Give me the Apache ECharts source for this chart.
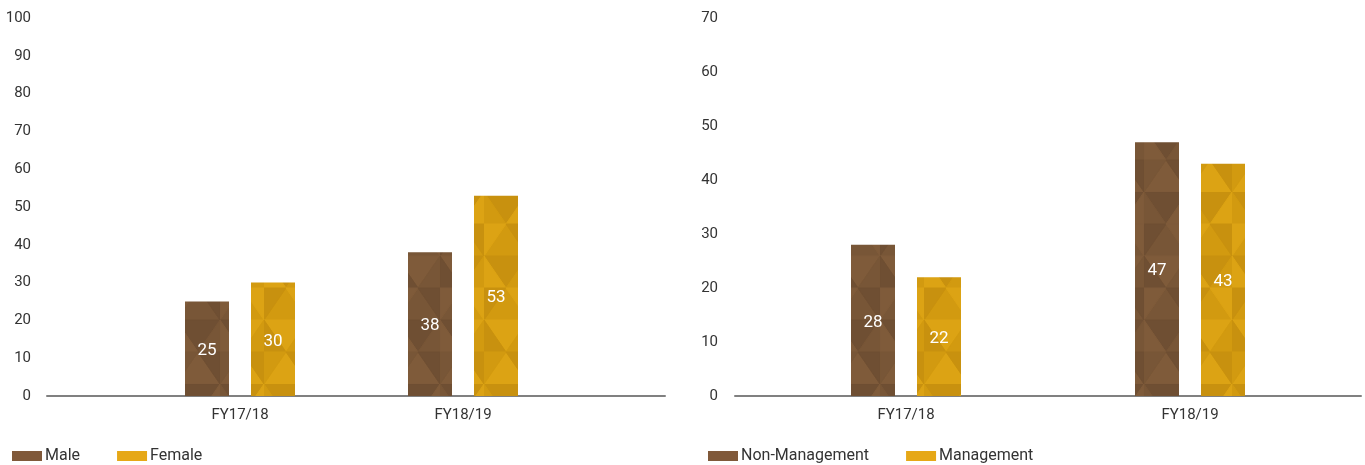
<!DOCTYPE html>
<html>
<head>
<meta charset="utf-8">
<script src="https://cdn.jsdelivr.net/npm/echarts@6/dist/echarts.min.js"></script>
<style>
  html, body { margin: 0; padding: 0; background: #fff; }
  #chart { width: 1365px; height: 465px; }
</style>
</head>
<body>
<div id="chart"></div>
<script>
// data
const years = ['FY17/18', 'FY18/19']
const male = [25, 38]
const female = [30, 53]
const nonManagement = [28, 47]
const management = [22, 43]
const genderTicks = { min: 0, max: 100, interval: 10 }
const levelTicks = { min: 0, max: 70, interval: 10 }

const BROWN = '#80593a'
const GOLD = '#e6a817'
const FONT = 'Roboto'

// 三角形纹理
const makePattern = (base, shades, order) => {
  const w = 44, h = 32, rows = 6
  const cv = document.createElement('canvas')
  cv.width = w
  cv.height = h * rows
  const ctx = cv.getContext('2d')
  ctx.fillStyle = base
  ctx.fillRect(0, 0, w, h * rows)
  let k = 0
  const tri = (pts) => {
    const c = shades[order[k++ % order.length]]
    ctx.fillStyle = c
    ctx.strokeStyle = c
    ctx.lineWidth = 1
    ctx.beginPath()
    ctx.moveTo(pts[0][0], pts[0][1])
    ctx.lineTo(pts[1][0], pts[1][1])
    ctx.lineTo(pts[2][0], pts[2][1])
    ctx.closePath()
    ctx.fill()
    ctx.stroke()
  }
  for (let r = 0; r < rows; r++) {
    const y0 = r * h, y1 = y0 + h
    if (r % 2 === 0) {
      tri([[0, y0], [w, y0], [w / 2, y1]])
      tri([[0, y0], [w / 2, y1], [0, y1]])
      tri([[w, y0], [w, y1], [w / 2, y1]])
    } else {
      tri([[0, y1], [w, y1], [w / 2, y0]])
      tri([[0, y0], [w / 2, y0], [0, y1]])
      tri([[w / 2, y0], [w, y0], [w, y1]])
    }
  }
  return { image: cv, repeat: 'repeat' }
}

const order = [0, 1, 2, 1, 0, 2, 2, 0, 1, 1, 2, 0, 0, 2, 1, 2, 1, 0]
const brownPattern = makePattern('#775536', ['#6f4f33', '#785637', '#7f5b3a'], order)
const goldPattern = makePattern('#d29a10', ['#c8910f', '#d29a10', '#dca314'], order.slice().reverse())

const labelStyle = { color: '#333', fontSize: 15, fontFamily: FONT }

const axisGrid = (left, width) => ({ left, width, top: 18, bottom: 69 })

const barSeries = (name, data, color, xi) => ({
  name,
  type: 'bar',
  xAxisIndex: xi,
  yAxisIndex: xi,
  data,
  barWidth: 44,
  barGap: '50%',
  itemStyle: { color },
  label: {
    show: true,
    position: 'inside',
    offset: [0, 2],
    color: '#fff',
    fontSize: 17,
    fontFamily: FONT
  },
  silent: true,
  animation: false
})

const axisLineOnly = (gi) => ({
  gridIndex: gi, type: 'value', min: 0, max: 1,
  axisLabel: { show: false }, splitLine: { show: false }, axisTick: { show: false },
  axisLine: { lineStyle: { color: '#808080', width: 2 } }
})

const legendBox = (left, items) => ({
  left, top: 443, itemWidth: 30, itemHeight: 10, itemGap: 37, icon: 'rect',
  textStyle: { ...labelStyle, fontSize: 16, padding: [0, 0, 0, -2] },
  data: items
})

const chart = echarts.init(document.getElementById('chart'))
chart.setOption({
  backgroundColor: '#fff',
  animation: false,
  grid: [
    axisGrid(47, 618),    // 左图轴线
    axisGrid(128.5, 446), // 左图柱
    axisGrid(735, 626),   // 右图轴线
    axisGrid(764, 568)    // 右图柱
  ],
  xAxis: [
    axisLineOnly(0),
    { gridIndex: 1, type: 'category', data: years, axisLine: { show: false }, axisTick: { show: false }, axisLabel: { ...labelStyle, margin: 12 } },
    axisLineOnly(2),
    { gridIndex: 3, type: 'category', data: years, axisLine: { show: false }, axisTick: { show: false }, axisLabel: { ...labelStyle, margin: 12 } }
  ],
  yAxis: [
    { gridIndex: 0, type: 'value', ...genderTicks, axisLine: { show: false }, axisTick: { show: false }, splitLine: { show: false }, axisLabel: { ...labelStyle, margin: 16 } },
    { gridIndex: 1, type: 'value', ...genderTicks, show: false, splitLine: { show: false } },
    { gridIndex: 2, type: 'value', ...levelTicks, axisLine: { show: false }, axisTick: { show: false }, splitLine: { show: false }, axisLabel: { ...labelStyle, margin: 17 } },
    { gridIndex: 3, type: 'value', ...levelTicks, show: false, splitLine: { show: false } }
  ],
  legend: [
    legendBox(7, [
      { name: 'Male', itemStyle: { color: BROWN } },
      { name: 'Female', itemStyle: { color: GOLD } }
    ]),
    legendBox(703, [
      { name: 'Non-Management', itemStyle: { color: BROWN } },
      { name: 'Management', itemStyle: { color: GOLD } }
    ])
  ],
  series: [
    barSeries('Male', male, brownPattern, 1),
    barSeries('Female', female, goldPattern, 1),
    barSeries('Non-Management', nonManagement, brownPattern, 3),
    barSeries('Management', management, goldPattern, 3)
  ]
})
</script>
</body>
</html>
